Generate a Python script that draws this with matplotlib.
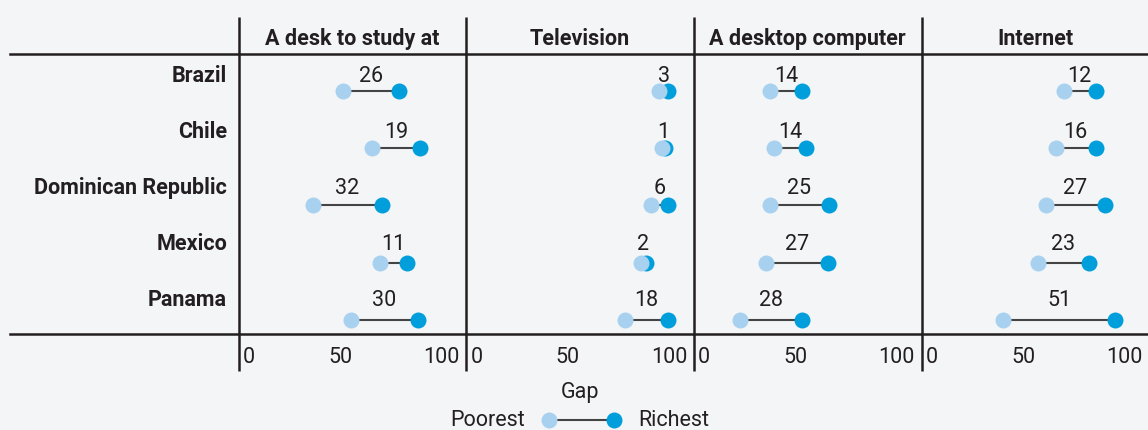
import numpy as np
import matplotlib.pyplot as plt
from matplotlib.transforms import ScaledTranslation

plt.rcParams['font.family'] = ['Roboto', 'DejaVu Sans']

countries = ["Brazil", "Chile", "Dominican Republic", "Mexico", "Panama"]
items = ["A desk to study at", "Television", "A desktop computer", "Internet"]

# % of households, poorest vs richest quintile
poorest = [
    [51.3, 65.6, 36.6, 69.7, 55.4],   # desk
    [95.2, 96.6, 91.1, 86.1, 78.2],   # television
    [37.7, 39.7, 37.7, 35.7, 23.1],   # desktop computer
    [70.0, 66.0, 61.2, 57.3, 40.2],   # internet
]
richest = [
    [78.9, 89.4, 70.5, 82.7, 88.3],
    [99.4, 98.0, 99.2, 88.5, 99.2],
    [53.4, 55.6, 66.6, 66.1, 53.3],
    [85.7, 85.7, 90.3, 82.4, 95.2],
]
gaps = [
    [26, 19, 32, 11, 30],
    [3, 1, 6, 2, 18],
    [14, 14, 25, 27, 28],
    [12, 16, 27, 23, 51],
]

C_POOR = "#a8d0ef"
C_RICH = "#009fdb"
C_LINE = "#444444"
C_TEXT = "#231f20"
BG = "#f4f5f7"
FS = 15.5

W, H = 1148, 431
fig = plt.figure(figsize=(W / 100, H / 100), dpi=100, facecolor=BG)

# overlay in pixel coordinates for frame lines, labels and legend
ax0 = fig.add_axes([0, 0, 1, 1], zorder=0)
ax0.set_xlim(0, W)
ax0.set_ylim(H, 0)
ax0.axis("off")
ax0.patch.set_alpha(0)

panel_x = [238.5, 466, 693.5, 921.5]
panel_w = 227.6
top, bottom = 55, 335

for px in panel_x:
    ax0.plot([px, px], [18, 372], color=C_TEXT, lw=1.8, solid_capstyle="butt")
ax0.plot([10, W], [top, top], color=C_TEXT, lw=1.8)
ax0.plot([10, W], [bottom, bottom], color=C_TEXT, lw=1.8)

for px, name in zip(panel_x, items):
    ax0.text(px + panel_w / 2, 45, name, ha="center", va="baseline",
             fontsize=FS, fontweight="bold", color=C_TEXT)

row_txt = [81.7 + 56.1 * i for i in range(len(countries))]   # baselines
row_dot = [92 + 57.2 * i for i in range(len(countries))]

for y, c in zip(row_txt, countries):
    ax0.text(227, y, c, ha="right", va="baseline", fontsize=FS,
             fontweight="bold", color=C_TEXT)

for k, px in enumerate(panel_x):
    ax = fig.add_axes([px / W, 1 - bottom / H, panel_w / W, (bottom - top) / H],
                      zorder=2)
    ax.set_xlim(0, 112)
    ax.set_ylim(bottom - top, 0)
    ax.patch.set_alpha(0)
    for s in ax.spines.values():
        s.set_visible(False)
    ax.set_yticks([])
    ax.set_xticks([0, 50, 100])
    ax.set_xticklabels(["0", "50", "100"], fontsize=FS, color=C_TEXT)
    ax.tick_params(axis="x", length=0, pad=8.5)
    first = ax.get_xticklabels()[0]
    first.set_ha("left")
    first.set_transform(first.get_transform() +
                        ScaledTranslation(4.5 / 100, 0, fig.dpi_scale_trans))

    for i in range(len(countries)):
        yd = row_dot[i] - top
        yt = row_txt[i] - top
        p, r = poorest[k][i], richest[k][i]
        ax.plot([p, r], [yd, yd], color=C_LINE, lw=1.5, zorder=2)
        ax.plot(r, yd, "o", ms=11.5, color=C_RICH, mec="none", zorder=3)
        ax.plot(p, yd, "o", ms=11.5, color=C_POOR, mec="none", zorder=4)
        ax.text((p + r) / 2, yt, str(gaps[k][i]), ha="center", va="baseline",
                fontsize=FS, color=C_TEXT)

# legend
ax0.text(580, 398, "Gap", ha="center", va="baseline", fontsize=FS, color=C_TEXT)
ax0.plot([549, 614], [421, 421], color=C_LINE, lw=1.5)
ax0.plot(614, 421, "o", ms=11.5, color=C_RICH, mec="none")
ax0.plot(549, 421, "o", ms=11.5, color=C_POOR, mec="none")
ax0.text(525, 426.5, "Poorest", ha="right", va="baseline", fontsize=FS, color=C_TEXT)
ax0.text(638, 426.5, "Richest", ha="left", va="baseline", fontsize=FS, color=C_TEXT)

fig.savefig("out.png", dpi=100, facecolor=BG)
